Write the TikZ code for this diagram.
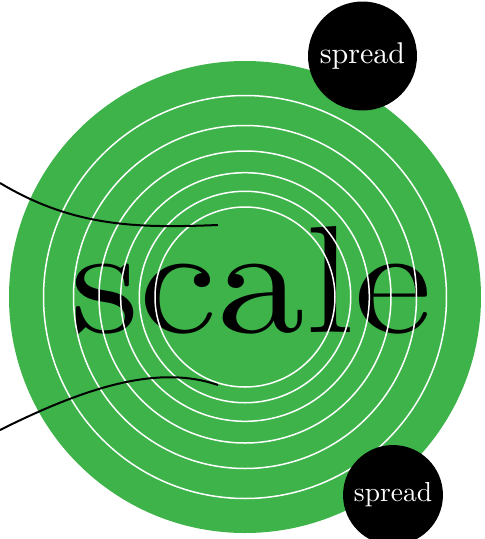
\documentclass[tikz,border=0pt]{standalone}
\usepackage{graphicx}
\definecolor{ringgreen}{RGB}{61,179,74}
\tikzset{
  ring/.style={draw=white, line width=1.5pt},
  wire/.style={draw=black, line width=2pt},
  spreadnode/.style={circle, fill=black, text=white, inner sep=0pt, minimum size=36.33pt, font=\fontsize{10}{12}\selectfont},
}
\begin{document}
\begin{tikzpicture}[x=1pt,y=-1pt]
\clip (0,0) rectangle (485,539);
\coordinate (cen) at (245,297);
\fill[ringgreen] (cen) circle[radius=236];
\node[anchor=base, inner sep=0pt] (word) at (251.5,332) {\resizebox{362pt}{106pt}{\fontsize{10}{12}\selectfont scale}};
\foreach \r in {90,105.75,124.3,146,171.5,201.5}{
  \draw[ring] (cen) circle[radius=\r];
}
\coordinate (t0) at (0,183);
\coordinate (t1) at (218,225);
\coordinate (b0) at (0,430);
\coordinate (b1) at (218,385);
\draw[wire] (t0) .. controls (75,228) and (140,228) .. (t1);
\draw[wire] (b0) .. controls (90,385) and (160,365) .. (b1);
\node[spreadnode, scale=3] (sp1) at (362.5,56) {spread};
\node[spreadnode, scale=2.75] (sp2) at (393,495) {spread};
\end{tikzpicture}
\end{document}
